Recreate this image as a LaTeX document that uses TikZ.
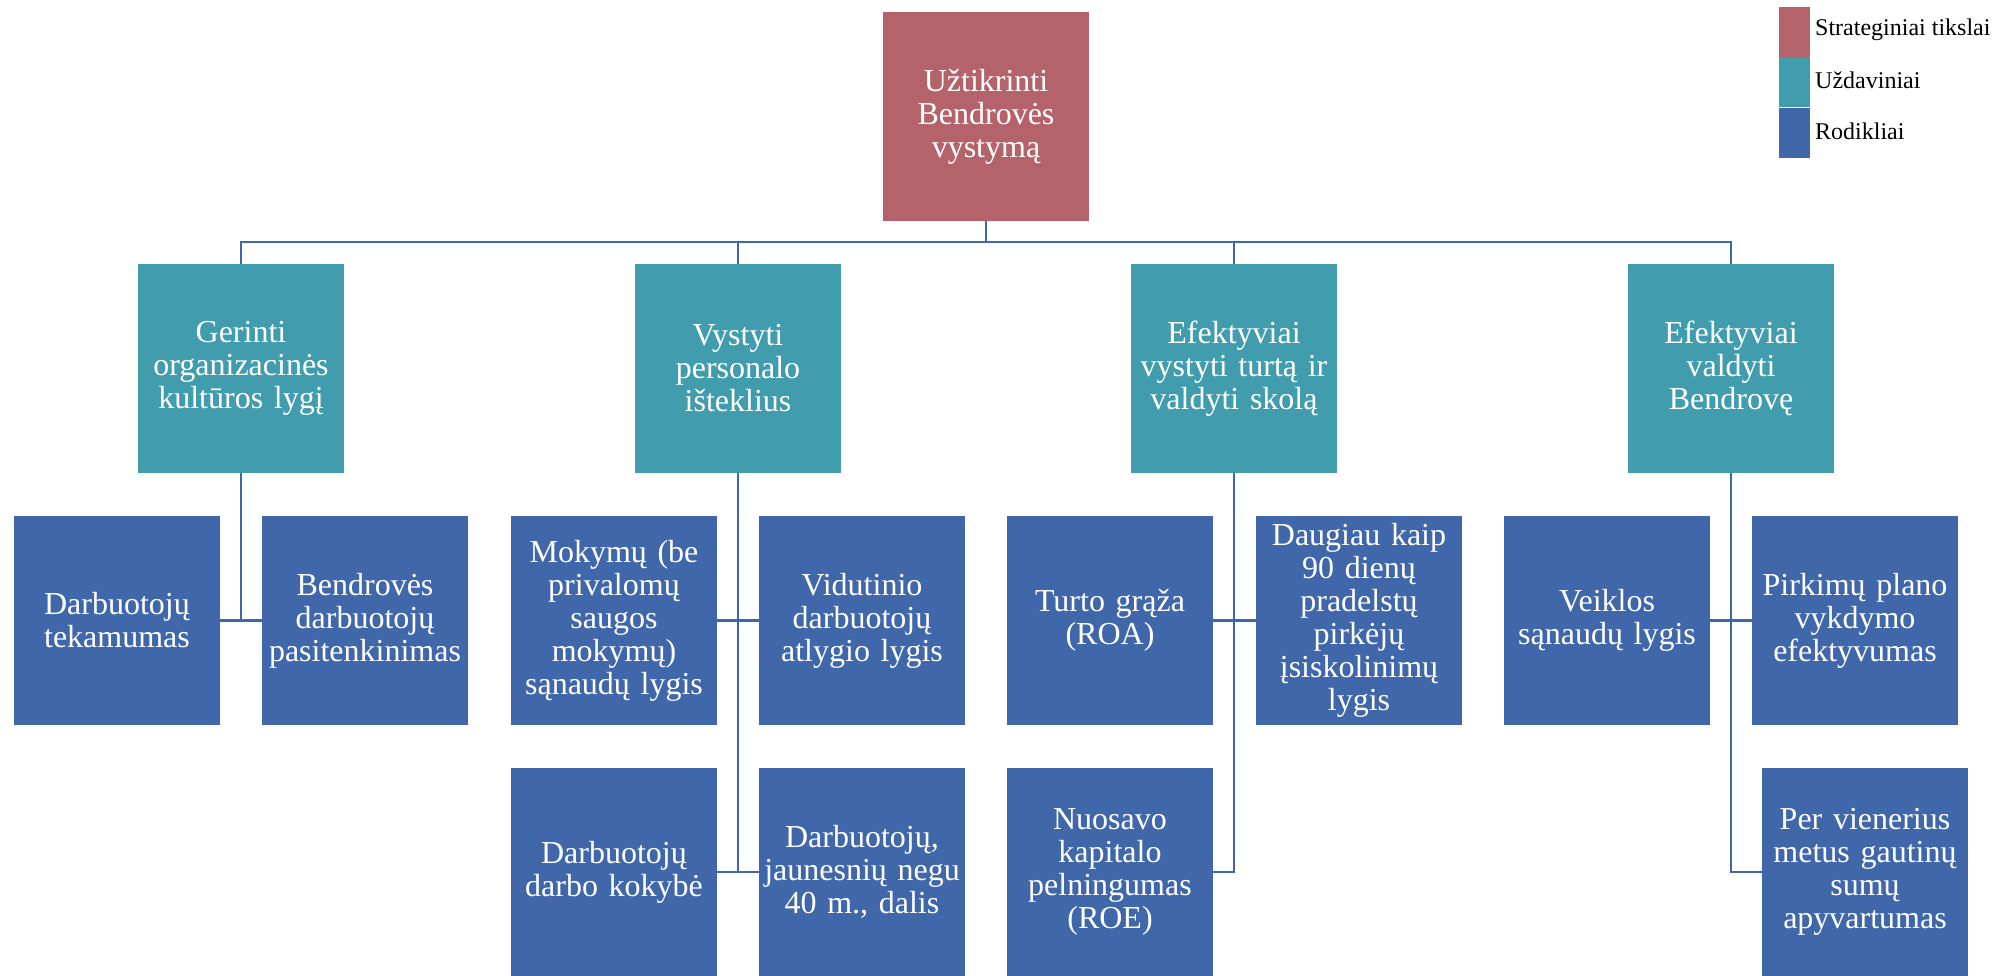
\documentclass[tikz,border=0pt]{standalone}
\usepackage{fontspec}
\setmainfont{Liberation Serif}
\definecolor{goalred}{RGB}{181,99,106}
\definecolor{taskteal}{RGB}{65,157,174}
\definecolor{indblue}{RGB}{64,103,170}
\tikzset{
  box/.style={minimum width=206pt, minimum height=209pt, inner sep=2pt, align=center, text=white, font=\fontsize{32}{33}\selectfont, text width=200pt},
  goalbox/.style={box, fill=goalred},
  taskbox/.style={box, fill=taskteal},
  indbox/.style={box, fill=indblue},
  conn/.style={draw=indblue, line width=2.5pt},
  legsq/.style={minimum width=31pt, minimum height=50pt, inner sep=0pt},
  legtext/.style={anchor=west, font=\fontsize{24}{26}\selectfont, inner sep=0pt}
}
\begin{document}
\begin{tikzpicture}[x=1pt,y=-1pt]
\useasboundingbox (0,0) rectangle (2011,975);
\fill[white] (0,0) rectangle (2011,975);

% root
\node[goalbox] (root) at (986,116.5) {Užtikrinti\\Bendrovės\\vystymą};

% tasks
\node[taskbox] (t1) at (241,368.5) {Gerinti\\organizacinės\\kultūros lygį};
\node[taskbox] (t2) at (738,368.5) {Vystyti\\personalo\\išteklius};
\node[taskbox] (t3) at (1234,368.5) {Efektyviai\\vystyti turtą ir\\valdyti skolą};
\node[taskbox] (t4) at (1731,368.5) {Efektyviai\\valdyti\\Bendrovę};

% indicators
\node[indbox] (b11) at (117,620.5) {Darbuotojų\\tekamumas};
\node[indbox] (b12) at (365,620.5) {Bendrovės\\darbuotojų\\pasitenkinimas};

\node[indbox] (b21) at (614,620.5) {Mokymų (be\\privalomų\\saugos\\mokymų)\\sąnaudų lygis};
\node[indbox] (b22) at (862,620.5) {Vidutinio\\darbuotojų\\atlygio lygis};
\node[indbox] (b23) at (614,872) {Darbuotojų\\darbo kokybė};
\node[indbox] (b24) at (862,872) {Darbuotojų,\\jaunesnių negu\\40 m., dalis};

\node[indbox] (b31) at (1110,620.5) {Turto grąža\\(ROA)};
\node[indbox] (b32) at (1359,620.5) {Daugiau kaip\\90 dienų\\pradelstų\\pirkėjų\\įsiskolinimų\\lygis};
\node[indbox] (b33) at (1110,872) {Nuosavo\\kapitalo\\pelningumas\\(ROE)};

\node[indbox] (b41) at (1607,620.5) {Veiklos\\sąnaudų lygis};
\node[indbox] (b42) at (1855,620.5) {Pirkimų plano\\vykdymo\\efektyvumas};
\node[indbox] (b43) at (1865,872) {Per vienerius\\metus gautinų\\sumų\\apyvartumas};

% connectors
\coordinate (bus) at (986,242);
\draw[conn] (root.south) -- (bus) -| (t1.north);
\draw[conn] (bus) -| (t2.north);
\draw[conn] (bus) -| (t3.north);
\draw[conn] (bus) -| (t4.north);

\draw[conn] (t1.south) |- (b11.east);
\draw[conn] (t1.south) |- (b12.west);

\draw[conn] (t2.south) |- (b21.east);
\draw[conn] (t2.south) |- (b22.west);
\draw[conn] (t2.south) |- (b23.east);
\draw[conn] (t2.south) |- (b24.west);

\draw[conn] (t3.south) |- (b31.east);
\draw[conn] (t3.south) |- (b32.west);
\draw[conn] (t3.south) |- (b33.east);

\draw[conn] (t4.south) |- (b41.east);
\draw[conn] (t4.south) |- (b42.west);
\draw[conn] (t4.south) |- (b43.west);

% legend
\node[legsq, fill=goalred] (l1) at (1794.5,32) {};
\node[legsq, fill=taskteal] (l2) at (1794.5,82) {};
\node[legsq, fill=indblue] (l3) at (1794.5,132.5) {};
\node[legtext] (lt1) at (1815,30) {Strateginiai tikslai};
\node[legtext] (lt2) at (1815,80) {Uždaviniai};
\node[legtext] (lt3) at (1815,131) {Rodikliai};
\end{tikzpicture}
\end{document}
